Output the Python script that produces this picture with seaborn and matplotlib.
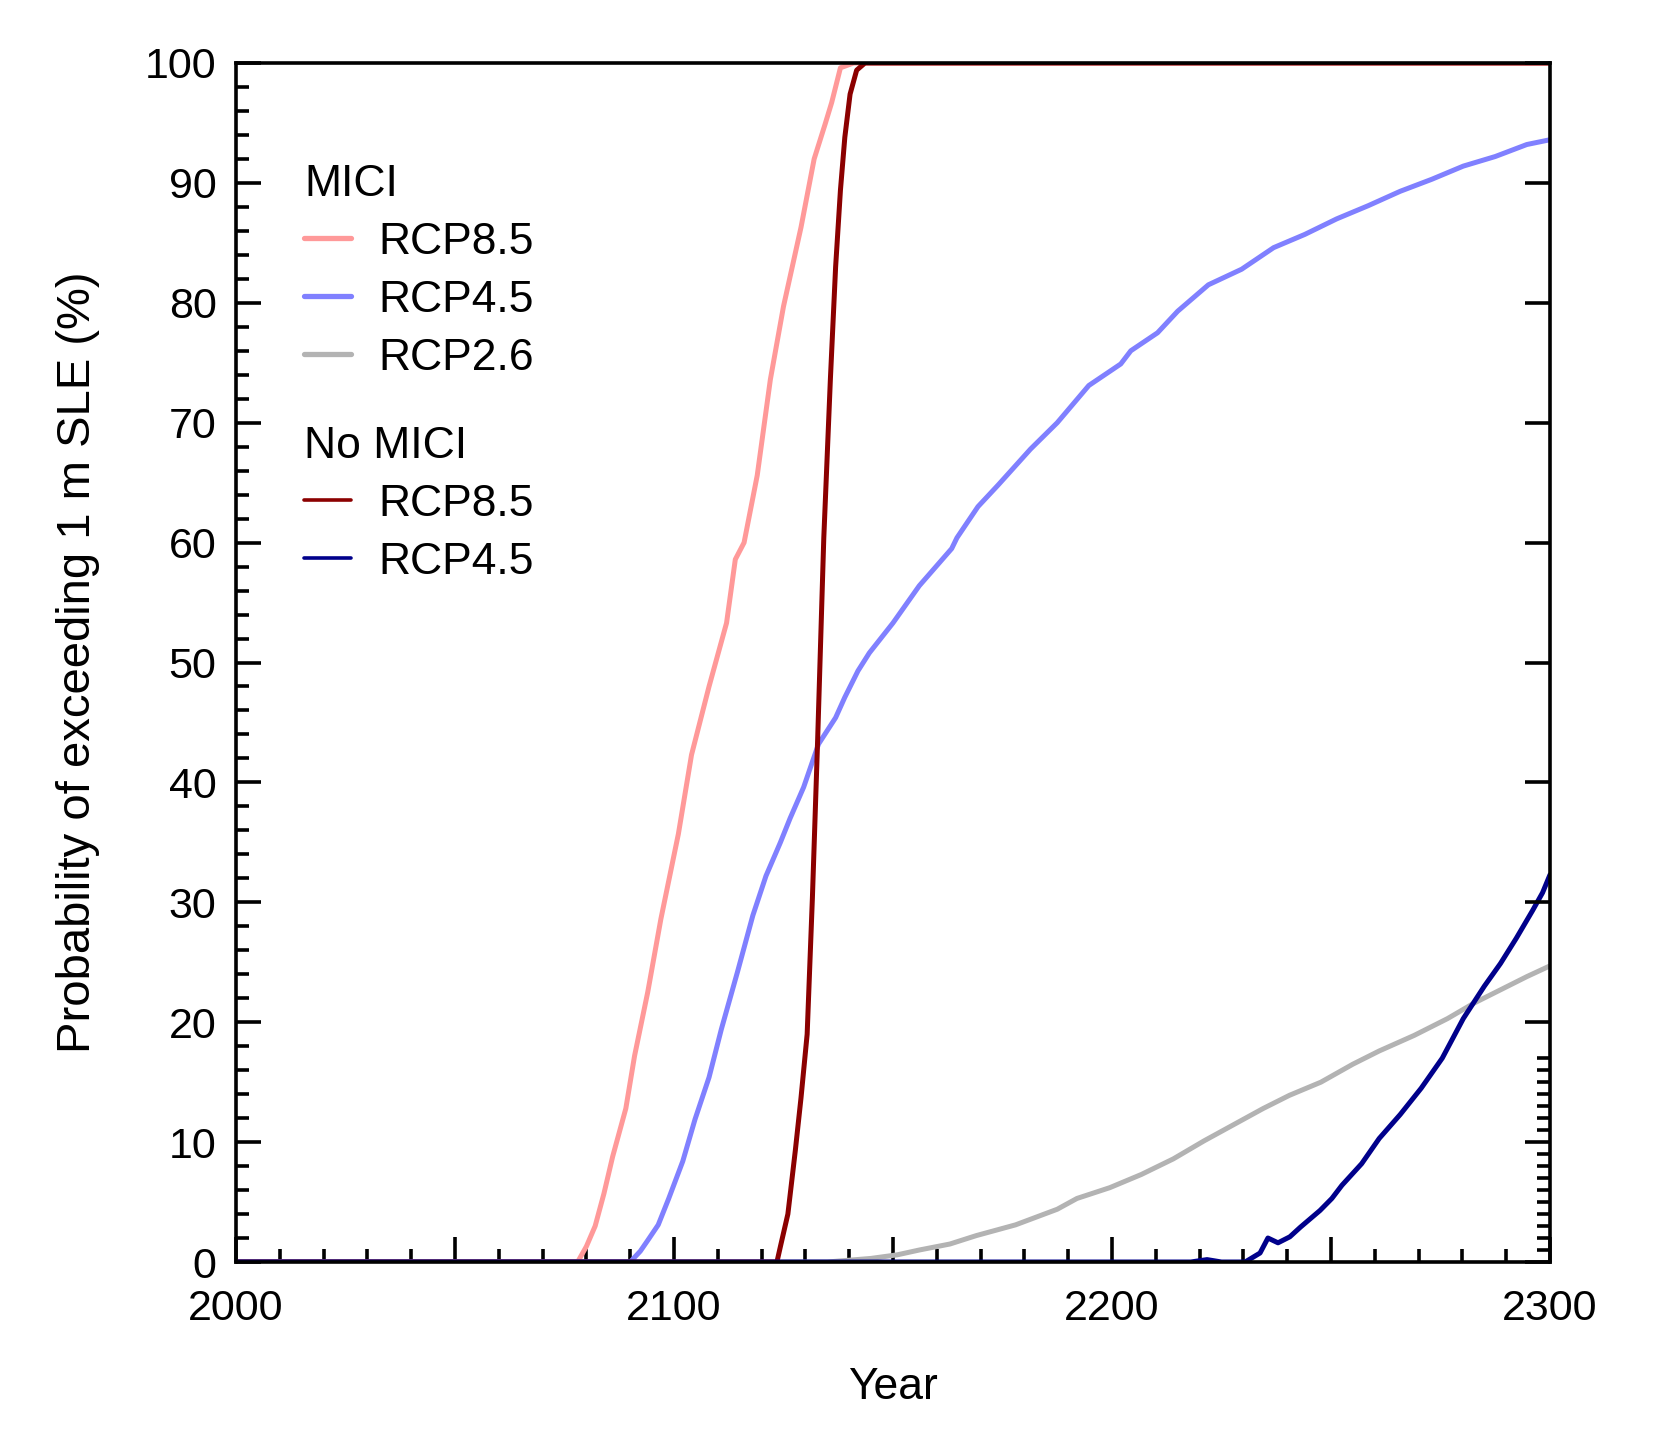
import matplotlib
matplotlib.use("Agg")
import matplotlib.pyplot as plt
from matplotlib.lines import Line2D
from matplotlib.ticker import FixedLocator, FuncFormatter
import seaborn as sns
import pandas as pd

# ---------------- data ----------------
years_mici85 = [2000, 2078, 2080, 2082, 2084, 2086, 2089, 2091, 2094, 2097, 2101, 2104,
                2108, 2112, 2114, 2116, 2119, 2122, 2125, 2129, 2132, 2134.5, 2136, 2138,
                2141, 2300]
prob_mici85 = [0, 0, 1.3, 3, 5.7, 8.8, 12.8, 17.2, 22.5, 28.6, 35.7, 42.3,
               48, 53.3, 58.6, 60, 65.6, 73.6, 79.7, 86.3, 92, 94.9, 96.7, 99.6,
               100, 100]

years_mici45 = [2000, 2090, 2092.3, 2094, 2096.4, 2098.8, 2102, 2104.8, 2108, 2110.8, 2114.5,
                2118, 2121, 2124.3, 2126.5, 2129.6, 2133, 2136.9, 2139, 2142, 2144.6, 2150,
                2156, 2163.4, 2164.6, 2169.4, 2174, 2181.4, 2187.5, 2194.7, 2202, 2204.3,
                2210.4, 2215, 2222, 2229.6, 2236.9, 2244, 2251.3, 2258.5, 2265.8, 2273,
                2280.2, 2287.5, 2294.7, 2300]
prob_mici45 = [0, 0, 0.9, 1.8, 3.1, 5.3, 8.4, 11.9, 15.4, 19.4, 24.2,
               28.9, 32.2, 35, 37, 39.6, 43.2, 45.4, 47.1, 49.3, 50.8, 53.3,
               56.4, 59.5, 60.4, 63, 64.8, 67.8, 70, 73.1, 74.9, 76,
               77.5, 79.3, 81.5, 82.8, 84.6, 85.7, 87, 88.1, 89.3, 90.3,
               91.4, 92.2, 93.2, 93.6]

years_mici26 = [2000, 2135, 2145, 2151, 2156, 2163, 2169, 2178, 2187.5, 2192, 2199.5, 2206.7,
                2214, 2221, 2228, 2234.5, 2240.5, 2247.7, 2255, 2261, 2269, 2276.6, 2282.7,
                2288.7, 2294.7, 2300]
prob_mici26 = [0, 0, 0.3, 0.6, 1.0, 1.5, 2.2, 3.1, 4.4, 5.3, 6.2, 7.3,
               8.6, 10.1, 11.5, 12.8, 13.9, 15, 16.5, 17.6, 18.9, 20.3, 21.6,
               22.7, 23.8, 24.7]

years_nomici85 = [2000, 2123.5, 2124.3, 2126, 2127.7, 2129, 2130.4, 2131.6, 2132.8, 2134.2,
                  2135.7, 2136.9, 2138, 2139, 2140.2, 2141.7, 2143.6, 2300]
prob_nomici85 = [0, 0, 1.3, 4, 9.3, 13.7, 19, 30.4, 43.6, 60.4,
                 73.6, 83, 89.4, 93.8, 97.4, 99.4, 100, 100]

years_nomici45 = [2000, 2218, 2221.7, 2225, 2230.4, 2233.8, 2235.6, 2237.9, 2240.6, 2243,
                  2247.5, 2250.2, 2252.5, 2257, 2261, 2265.8, 2270.6, 2275.4, 2280.2, 2285,
                  2288.7, 2292.3, 2296, 2298.3, 2300]
prob_nomici45 = [0, 0, 0.2, 0, 0, 0.75, 2.0, 1.6, 2.1, 2.9,
                 4.3, 5.3, 6.4, 8.2, 10.3, 12.3, 14.5, 17.0, 20.3, 23.0,
                 24.9, 27.0, 29.3, 30.8, 32.3]

series_names = ["MICI RCP8.5", "MICI RCP4.5", "MICI RCP2.6", "No MICI RCP8.5", "No MICI RCP4.5"]
legend_labels_mici = ["RCP8.5", "RCP4.5", "RCP2.6"]
legend_labels_nomici = ["RCP8.5", "RCP4.5"]
series_colors = ["#FF9999", "#8080FF", "#B3B3B3", "#8B0000", "#00008B"]
xlabel = "Year"
ylabel = "Probability of exceeding 1 m SLE (%)"

# ---------------- build long table ----------------
all_years = [years_mici85, years_mici45, years_mici26, years_nomici85, years_nomici45]
all_probs = [prob_mici85, prob_mici45, prob_mici26, prob_nomici85, prob_nomici45]
frames = []
for name, yrs, pr in zip(series_names, all_years, all_probs):
    frames.append(pd.DataFrame({"year": yrs, "prob": pr, "series": name}))
df = pd.concat(frames, ignore_index=True)

# ---------------- style ----------------
sns.set_style("ticks")
plt.rcParams["font.family"] = ["Liberation Sans", "DejaVu Sans"]
for k in ["text.color", "axes.labelcolor", "xtick.color", "ytick.color", "axes.edgecolor"]:
    plt.rcParams[k] = "black"
FS = 32
FS_TICK = 31
LW_SPINE = 2.6

fig = plt.figure(figsize=(16.56, 14.30), dpi=100)
ax = fig.add_axes([236 / 1656, 1 - 1262 / 1430, (1550 - 236) / 1656, (1262 - 63) / 1430])

palette = dict(zip(series_names, series_colors))
sns.lineplot(data=df, x="year", y="prob", hue="series", hue_order=series_names,
             palette=palette, estimator=None, sort=False, linewidth=3.6,
             legend=False, ax=ax)

ax.set_xlim(2000, 2300)
ax.set_ylim(0, 100)

# x ticks
ax.xaxis.set_major_locator(FixedLocator(list(range(2000, 2301, 50))))
ax.xaxis.set_minor_locator(FixedLocator([y for y in range(2000, 2301, 10) if y % 50 != 0]))
ax.xaxis.set_major_formatter(FuncFormatter(lambda v, p: f"{int(round(v))}" if int(round(v)) % 100 == 0 else ""))
# y ticks (left)
ax.yaxis.set_major_locator(FixedLocator(list(range(0, 101, 10))))
ax.yaxis.set_minor_locator(FixedLocator([v for v in range(0, 101, 2) if v % 10 != 0]))

ax.tick_params(axis="both", which="major", direction="in", length=18, width=LW_SPINE,
               labelsize=FS_TICK, colors="black", top=False, right=False)
ax.tick_params(axis="both", which="minor", direction="in", length=9.4, width=LW_SPINE,
               top=False, right=False)
ax.tick_params(axis="y", which="major", pad=14)
ax.tick_params(axis="x", which="major", pad=19.5)

for sp in ax.spines.values():
    sp.set_visible(True)
    sp.set_linewidth(LW_SPINE)
    sp.set_color("black")
    sp.set_zorder(5)

# right axis ticks
ax2 = ax.twinx()
ax2.set_ylim(0, 100)
ax2.yaxis.set_major_locator(FixedLocator(list(range(0, 101, 10))))
ax2.yaxis.set_minor_locator(FixedLocator([v for v in range(1, 18) if v % 10 != 0]))
ax2.tick_params(axis="y", which="major", direction="in", length=18, width=LW_SPINE,
                labelright=False, color="black")
ax2.tick_params(axis="y", which="minor", direction="in", length=9.4, width=LW_SPINE,
                color="black")
for sp in ax2.spines.values():
    sp.set_visible(False)

ax.set_xlabel(xlabel, fontsize=FS, labelpad=27)
ax.set_ylabel(ylabel, fontsize=FS + 2, labelpad=32)

# legends
h_mici = [Line2D([], [], color=c, lw=3.8, solid_capstyle="round") for c in series_colors[:3]]
h_nomici = [Line2D([], [], color=c, lw=2.6, solid_capstyle="round") for c in series_colors[3:]]
common = dict(frameon=False, fontsize=FS, title_fontsize=FS, loc="upper left",
              borderpad=0, borderaxespad=0, handlelength=1.05, handletextpad=0.62,
              labelspacing=0.38, alignment="left")
leg1 = ax2.legend(h_mici, legend_labels_mici, title="MICI",
                  bbox_to_anchor=((304 - 236) / 1314, (1262 - 164) / 1199), **common)
ax2.add_artist(leg1)
leg2 = ax2.legend(h_nomici, legend_labels_nomici, title="No MICI",
                  bbox_to_anchor=((304 - 236) / 1314, (1262 - 426) / 1199), **common)

fig.savefig("out.png", dpi=100)
